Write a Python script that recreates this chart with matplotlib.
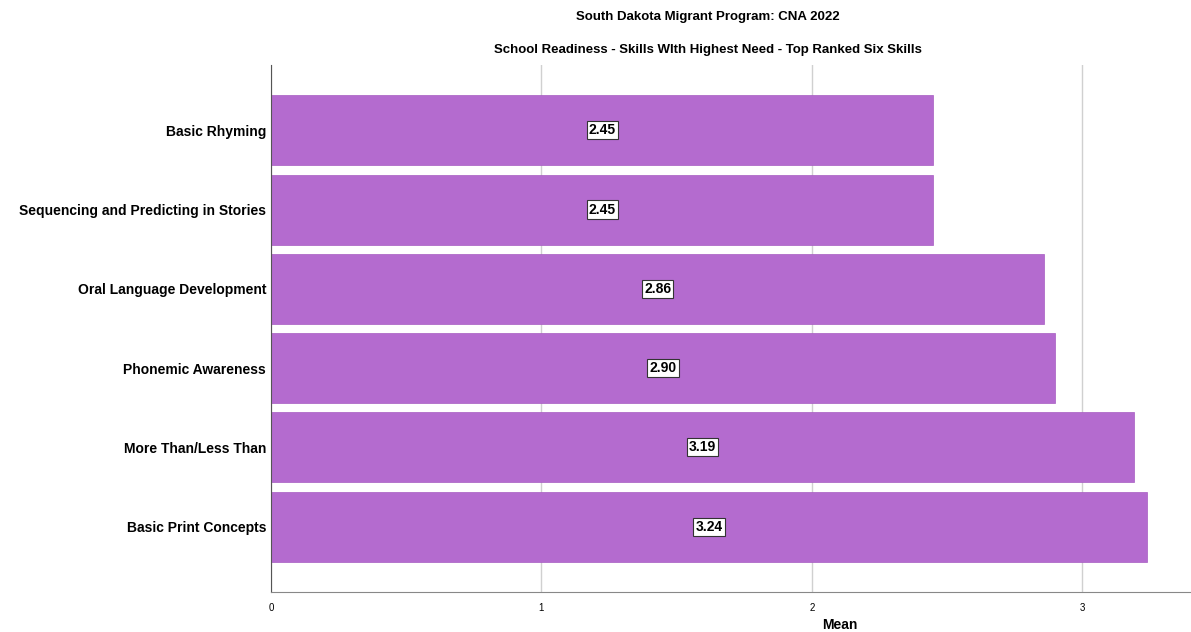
import matplotlib.pyplot as plt

plt.rcParams['font.family'] = ['Liberation Sans', 'DejaVu Sans']

skills = ["Basic Rhyming", "Sequencing and Predicting in Stories", "Oral Language Development",
          "Phonemic Awareness", "More Than/Less Than", "Basic Print Concepts"]
means = [2.45, 2.45, 2.86, 2.90, 3.19, 3.24]
xticks = [0, 1, 2, 3]

fig = plt.figure(figsize=(11.91, 6.32), dpi=100)
ax = fig.add_axes([0.2275, 0.0633, 0.772, 0.834])

pos = list(range(len(skills)))
ax.barh(pos, means, height=0.884, color='#b46bcf', edgecolor='#a65bc2', linewidth=0.5, zorder=2)
for p, m in zip(pos, means):
    ax.text(m / 2, p, f"{m:.2f}", ha='center', va='center', fontsize=10, fontweight='bold',
            bbox=dict(boxstyle='square,pad=0.15', fc='white', ec='#333333', lw=0.8), zorder=3)

ax.set_ylim(5.825, -0.825)
ax.set_xlim(0, 3.40)
ax.set_yticks(pos)
ax.set_yticklabels(skills, fontsize=10, fontweight='bold')
ax.set_xticks(xticks)
ax.set_xticklabels([str(t) for t in xticks], fontsize=7)
ax.tick_params(axis='both', length=0)
ax.tick_params(axis='x', pad=8)
ax.grid(axis='x', color='#d0d0d0', linewidth=1, zorder=0)
ax.set_axisbelow(True)
for s in ['top', 'right']:
    ax.spines[s].set_visible(False)
ax.spines['left'].set_color('#555555')
ax.spines['bottom'].set_color('#888888')
ax.set_xlabel("Mean", fontsize=10, fontweight='bold')
ax.xaxis.set_label_coords((840 - 271) / 920, -0.05)

fig.text(0.594, 0.973, "South Dakota Migrant Program: CNA 2022", ha='center', va='center',
         fontsize=9.5, fontweight='bold')
fig.text(0.594, 0.921, "School Readiness - Skills WIth Highest Need - Top Ranked Six Skills",
         ha='center', va='center', fontsize=9.5, fontweight='bold')

fig.savefig('out.png', dpi=100)
